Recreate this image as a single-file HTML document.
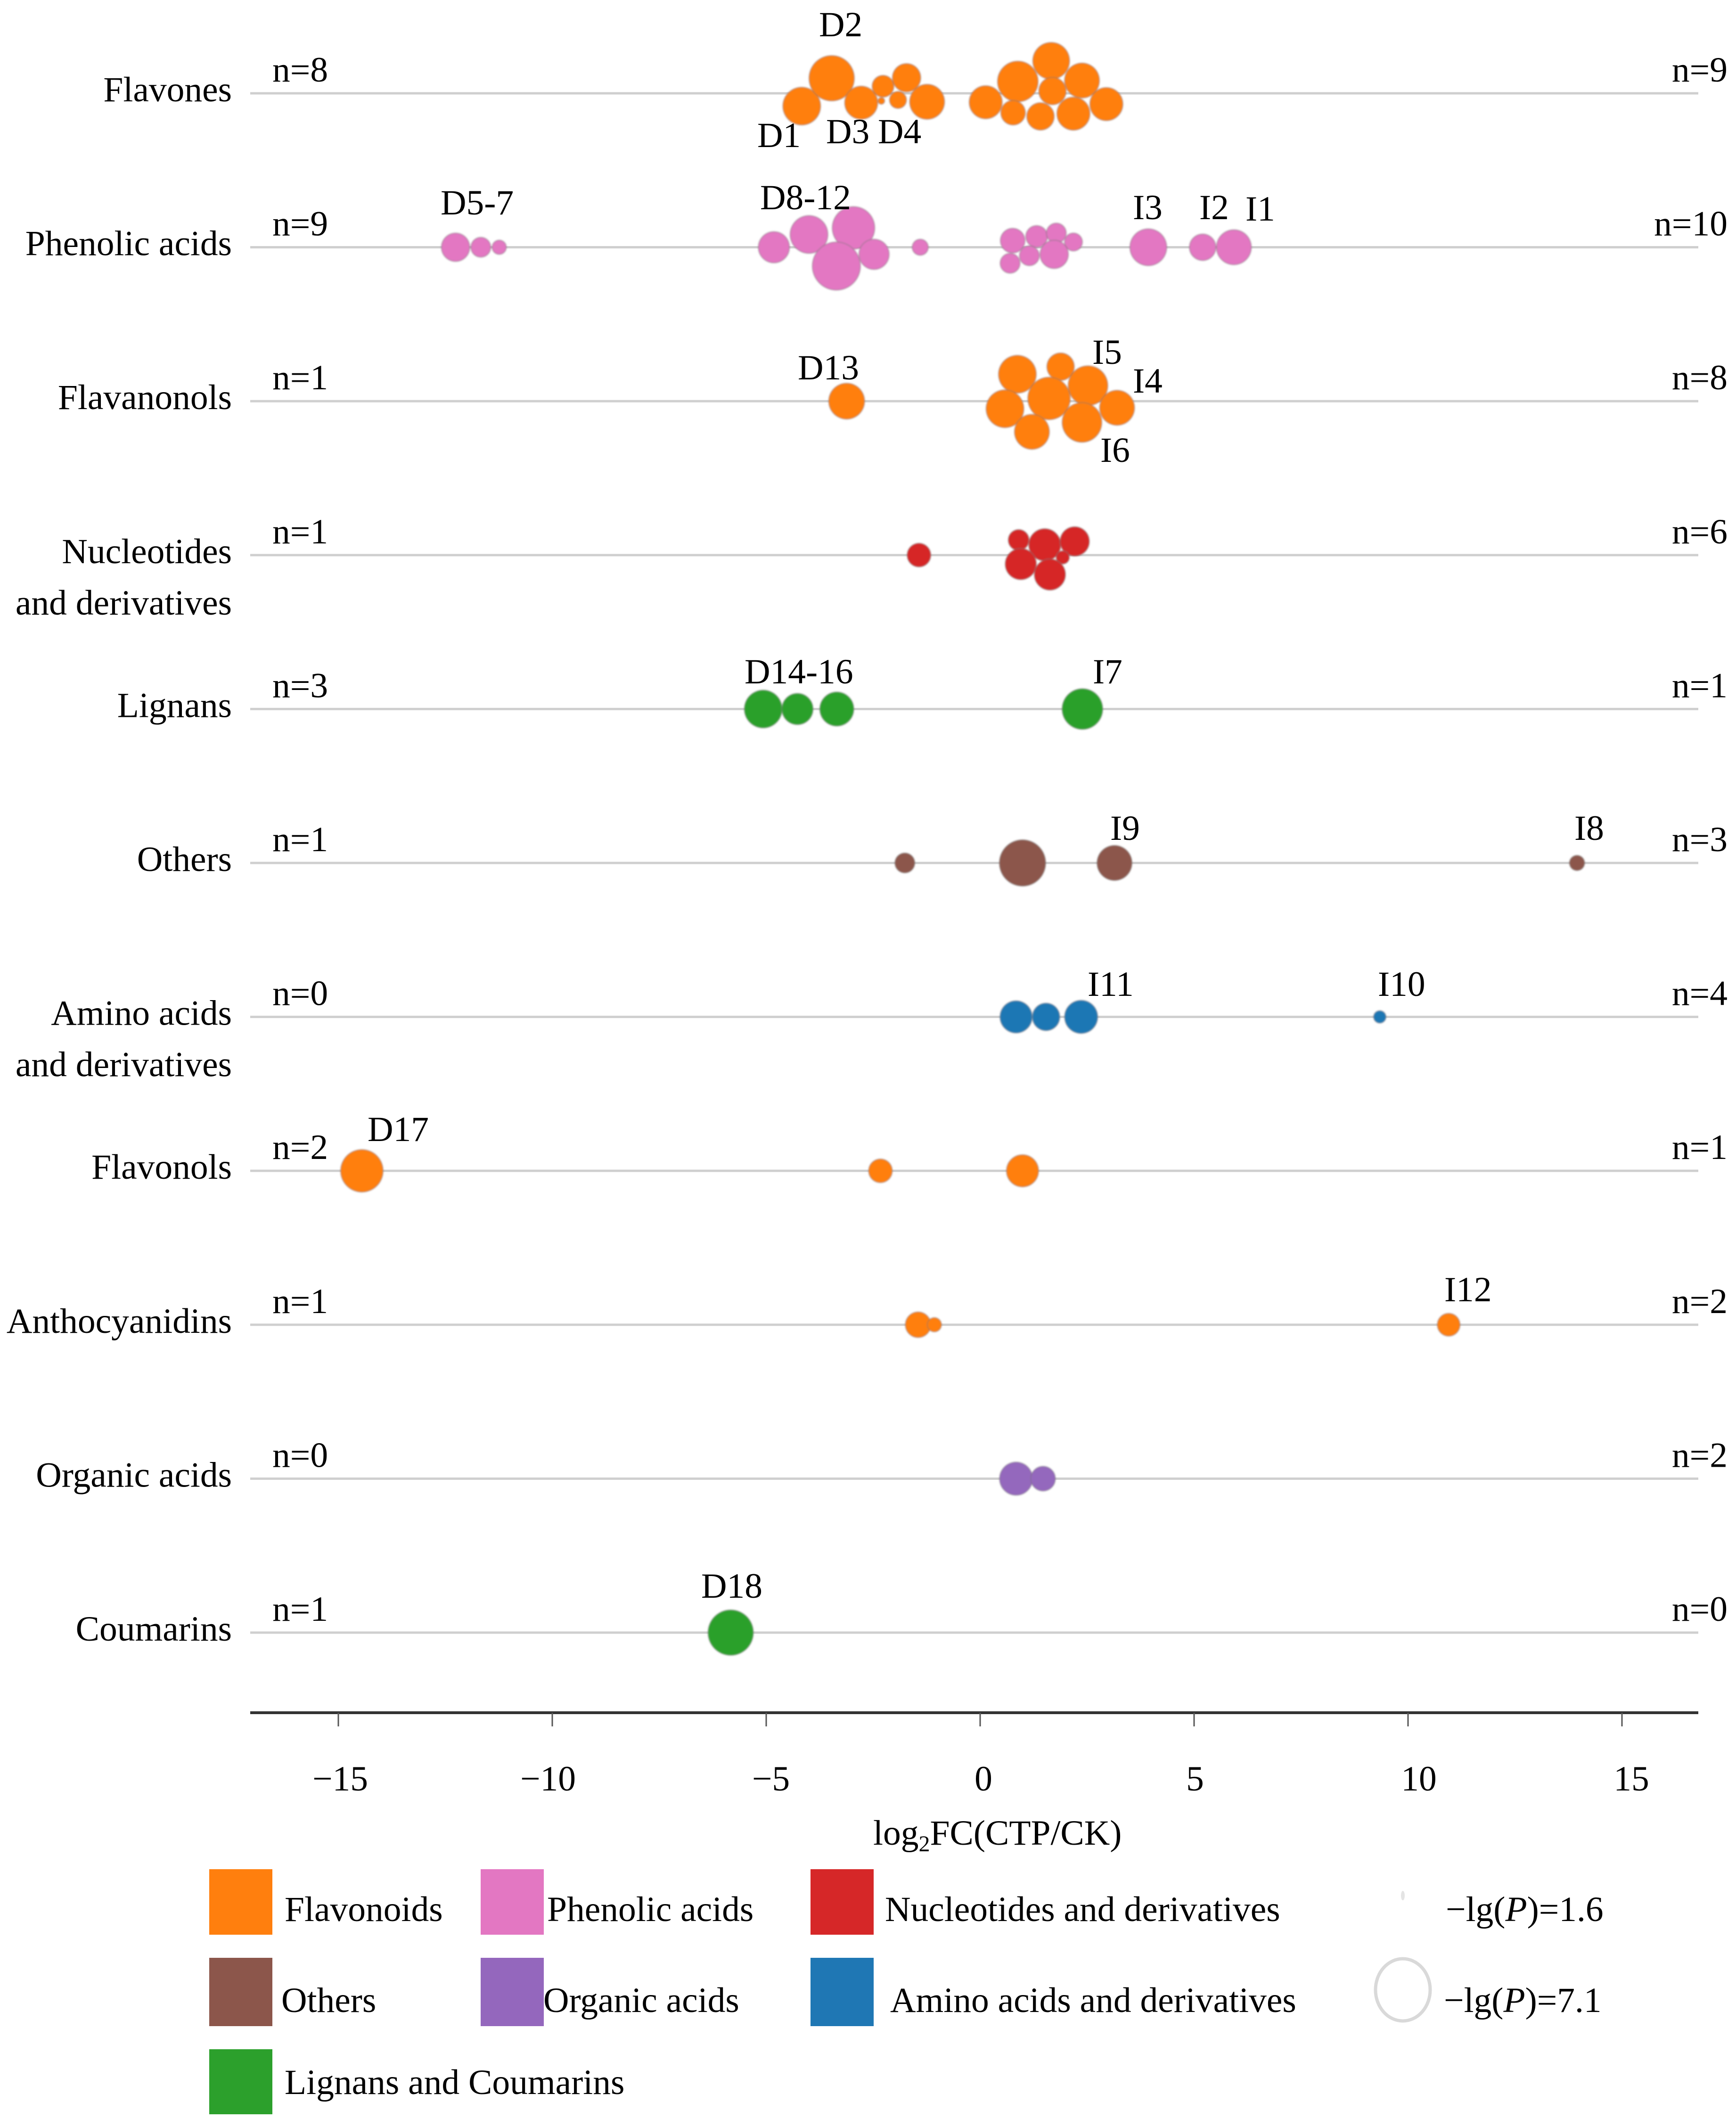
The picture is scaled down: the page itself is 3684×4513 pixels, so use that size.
<!DOCTYPE html>
<html lang="en">
<head>
<meta charset="utf-8">
<title>Differential metabolites by class</title>
<style>
html,body{margin:0;padding:0;background:#fff;}
svg{display:block;}
text{font-family:"Liberation Serif",serif;font-size:75.5px;fill:#000;}
</style>
</head>
<body>
<svg id="chart" xmlns="http://www.w3.org/2000/svg" width="3684" height="4513" viewBox="0 0 3684 4513">
  <defs>
    <filter id="soft" x="-5%" y="-5%" width="110%" height="110%"><feGaussianBlur stdDeviation="1.6"/></filter>
  </defs>
  <rect x="0" y="0" width="3684" height="4513" fill="#fff"/>
  <g id="rows"></g>
  <g id="marks" filter="url(#soft)"></g>
  <g id="axis"></g>

  <g>
    <text x="1738" y="77">D2</text>
    <text x="1607" y="312">D1</text>
    <text x="1753" y="304">D3</text>
    <text x="1863" y="304">D4</text>
    <text x="935" y="455">D5-7</text>
    <text x="1613" y="444">D8-12</text>
    <text x="2404" y="465">I3</text>
    <text x="2545" y="465">I2</text>
    <text x="2643" y="468">I1</text>
    <text x="1693" y="805">D13</text>
    <text x="2318" y="772">I5</text>
    <text x="2404" y="833">I4</text>
    <text x="2335" y="980">I6</text>
    <text x="1580" y="1450">D14-16</text>
    <text x="2319" y="1450">I7</text>
    <text x="2356" y="1782">I9</text>
    <text x="3341" y="1782">I8</text>
    <text x="2308" y="2113">I11</text>
    <text x="2924" y="2113">I10</text>
    <text x="780" y="2421">D17</text>
    <text x="3065" y="2761">I12</text>
    <text x="1488" y="3390">D18</text>
  </g>

  <text x="1853" y="3914">log<tspan dy="14" style="font-size:48px">2</tspan><tspan dy="-14">FC(CTP/CK)</tspan></text>

  <g>
    <rect x="444" y="3966" width="134" height="139" fill="#ff7f0e"/>
    <text x="604" y="4076">Flavonoids</text>
    <rect x="1020" y="3966" width="134" height="139" fill="#e377c2"/>
    <text x="1161" y="4076">Phenolic acids</text>
    <rect x="1720" y="3966" width="134" height="139" fill="#d62728"/>
    <text x="1878" y="4076">Nucleotides and derivatives</text>
    <rect x="444" y="4154" width="134" height="145" fill="#8c564b"/>
    <text x="597" y="4269">Others</text>
    <rect x="1020" y="4154" width="134" height="145" fill="#9467bd"/>
    <text x="1153" y="4269">Organic acids</text>
    <rect x="1720" y="4154" width="134" height="145" fill="#1f77b4"/>
    <text x="1889" y="4269">Amino acids and derivatives</text>
    <rect x="444" y="4348" width="134" height="138" fill="#2ca02c"/>
    <text x="604" y="4443">Lignans and Coumarins</text>
    <g id="sizeLegend"></g>
    <text x="3068" y="4076">−lg(<tspan font-style="italic">P</tspan>)=1.6</text>
    <text x="3064" y="4269">−lg(<tspan font-style="italic">P</tspan>)=7.1</text>
  </g>
</svg>

<script>
const categories = ["Flavones", "Phenolic acids", "Flavanonols", "Nucleotides|and derivatives", "Lignans", "Others", "Amino acids|and derivatives", "Flavonols", "Anthocyanidins", "Organic acids", "Coumarins"];
const downCounts = [8, 9, 1, 1, 3, 1, 0, 2, 1, 0, 1];
const upCounts = [9, 10, 8, 6, 1, 3, 4, 1, 2, 2, 0];
const xTicks = [-15, -10, -5, 0, 5, 10, 15];
const sizeLegendValues = [1.6, 7.1];

const flavonesFC = [-4.17, -3.47, -2.78, -2.27, -2.31, -1.92, -1.72, -1.24, 0.13, 0.88, 1.66, 2.38, 1.69, 0.77, 1.41, 2.18, 2.95];
const flavonesJitter = [0.083, -0.098, 0.061, -0.046, 0.049, 0.043, -0.101, 0.055, 0.058, -0.077, -0.211, -0.083, -0.015, 0.126, 0.15, 0.132, 0.07];
const flavonesLgP = [4.9, 5.7, 4.4, 3.2, 1.6, 2.7, 3.9, 4.6, 4.4, 5.2, 4.8, 4.6, 3.8, 3.5, 3.8, 4.4, 4.4];

const phenolicFC = [-12.26, -11.67, -11.24, -4.82, -4.0, -2.96, -3.36, -2.48, -1.4, 0.76, 1.32, 1.78, 2.18, 1.15, 1.73, 0.7, 3.93, 5.2, 5.93];
const phenolicJitter = [0, 0, 0, 0, -0.083, -0.126, 0.122, 0.046, 0, -0.043, -0.07, -0.092, -0.034, 0.055, 0.046, 0.104, 0, 0, 0];
const phenolicLgP = [3.9, 3.0, 2.4, 4.2, 4.9, 5.4, 6.0, 4.1, 2.6, 3.5, 3.2, 3.0, 2.8, 3.0, 3.9, 3.0, 4.8, 3.7, 4.6];

const flavanonolsFC = [-3.12, 0.87, 1.88, 2.52, 1.61, 0.58, 3.2, 2.38, 1.21];
const flavanonolsJitter = [0, -0.175, -0.224, -0.101, -0.018, 0.049, 0.043, 0.138, 0.199];
const flavanonolsLgP = [4.7, 4.9, 3.8, 5.1, 5.4, 4.9, 4.6, 5.1, 4.6];

const nucleotidesFC = [-1.43, 0.9, 1.51, 2.21, 1.93, 0.95, 1.63];
const nucleotidesJitter = [0, -0.098, -0.067, -0.089, 0.015, 0.058, 0.126];
const nucleotidesLgP = [3.4, 3.1, 4.3, 4.0, 2.3, 4.2, 4.2];

const lignansFC = [-5.07, -4.27, -3.35, 2.39];
const lignansJitter = [0, 0, 0, 0];
const lignansLgP = [4.9, 4.2, 4.5, 5.2];

const othersFC = [-1.76, 0.99, 3.14, 13.95];
const othersJitter = [0, 0, 0, 0];
const othersLgP = [3.0, 5.8, 4.6, 2.5];

const aminoFC = [0.84, 1.54, 2.36, 9.34];
const aminoJitter = [0, 0, 0, 0];
const aminoLgP = [4.3, 3.8, 4.4, 2.2];

const flavonolsFC = [-14.45, -2.33, 0.99];
const flavonolsJitter = [0, 0, 0];
const flavonolsLgP = [5.4, 3.4, 4.3];

const anthocyanidinsFC = [-1.45, -1.07, 10.95];
const anthocyanidinsJitter = [0, 0, 0];
const anthocyanidinsLgP = [3.6, 2.4, 3.3];

const organicFC = [0.84, 1.47];
const organicJitter = [0, 0];
const organicLgP = [4.4, 3.5];

const coumarinsFC = [-5.83];
const coumarinsJitter = [0];
const coumarinsLgP = [5.7];

const NS = "http://www.w3.org/2000/svg";
const rowsG = document.getElementById("rows");
const marksG = document.getElementById("marks");
const axisG = document.getElementById("axis");
const sizeG = document.getElementById("sizeLegend");

const xScale = v => 2080 + v * 90.8;
const rowY = i => 198 + i * 326.6;
const jitterPx = j => j * 326.6;
const radius = v => 7 + (v - 1.6) * 10;

function make(tag, attrs, parent, content) {
  const el = document.createElementNS(NS, tag);
  for (const k in attrs) el.setAttribute(k, attrs[k]);
  if (content !== undefined) el.textContent = content;
  parent.appendChild(el);
  return el;
}

const slug = s => s.toLowerCase().replace(/[^a-z]+/g, "-");

categories.forEach((cat, i) => {
  const y = rowY(i);
  const line = make("rect", {x: 531, y: y - 2.5, width: 3073, height: 5, fill: "#cfcfcf"}, rowsG);
  
  

  cat.split("|").forEach((part, k) => {
    const label = make("text", {x: 492, y: y + 17 + k * 109, "text-anchor": "end"}, rowsG, part);
    
    
  });

  const nLeft = make("text", {x: 578, y: y - 25}, rowsG, "n=" + downCounts[i]);
  
  

  const nRight = make("text", {x: 3666, y: y - 25, "text-anchor": "end"}, rowsG, "n=" + upCounts[i]);
  
  
});

function drawRow(rowIndex, fc, jitter, lgp, color, name) {
  fc.forEach((v, k) => {
    const c = make("circle", {
      cx: xScale(v),
      cy: rowY(rowIndex) + jitterPx(jitter[k]),
      r: radius(lgp[k]),
      fill: color,
      stroke: "rgba(120,120,120,0.35)",
      "stroke-width": 3
    }, marksG);
    
    
  });
}

drawRow(0, flavonesFC, flavonesJitter, flavonesLgP, "#ff7f0e", "flavones");
drawRow(1, phenolicFC, phenolicJitter, phenolicLgP, "#e377c2", "phenolic-acids");
drawRow(2, flavanonolsFC, flavanonolsJitter, flavanonolsLgP, "#ff7f0e", "flavanonols");
drawRow(3, nucleotidesFC, nucleotidesJitter, nucleotidesLgP, "#d62728", "nucleotides");
drawRow(4, lignansFC, lignansJitter, lignansLgP, "#2ca02c", "lignans");
drawRow(5, othersFC, othersJitter, othersLgP, "#8c564b", "others");
drawRow(6, aminoFC, aminoJitter, aminoLgP, "#1f77b4", "amino-acids");
drawRow(7, flavonolsFC, flavonolsJitter, flavonolsLgP, "#ff7f0e", "flavonols");
drawRow(8, anthocyanidinsFC, anthocyanidinsJitter, anthocyanidinsLgP, "#ff7f0e", "anthocyanidins");
drawRow(9, organicFC, organicJitter, organicLgP, "#9467bd", "organic-acids");
drawRow(10, coumarinsFC, coumarinsJitter, coumarinsLgP, "#2ca02c", "coumarins");

const axisLine = make("rect", {x: 531, y: 3631, width: 3073, height: 6, fill: "#333"}, axisG);



function tickLabelShift(index) {
  return [4, -9, 10, 7, 2, 23, 20][index] || 0;
}

xTicks.forEach((t, idx) => {
  const tick = make("rect", {x: xScale(t) - 1.5, y: 3634, width: 3, height: 29, fill: "#555"}, axisG);
  
  
  const label = make("text", {x: xScale(t) + tickLabelShift(idx), y: 3799, "text-anchor": "middle"}, axisG, (t < 0 ? "\u2212" + (-t) : String(t)));
  
  
});

const small = make("ellipse", {cx: 2977, cy: 4022, rx: radius(sizeLegendValues[0]) - 3, ry: radius(sizeLegendValues[0]) + 3, fill: "#e4e4e4"}, sizeG);



const big = make("ellipse", {cx: 2977, cy: 4222, rx: radius(sizeLegendValues[1]) - 4, ry: radius(sizeLegendValues[1]) + 4, fill: "#fff", stroke: "#d9d9d9", "stroke-width": 7}, sizeG);


</script>
</body>
</html>
